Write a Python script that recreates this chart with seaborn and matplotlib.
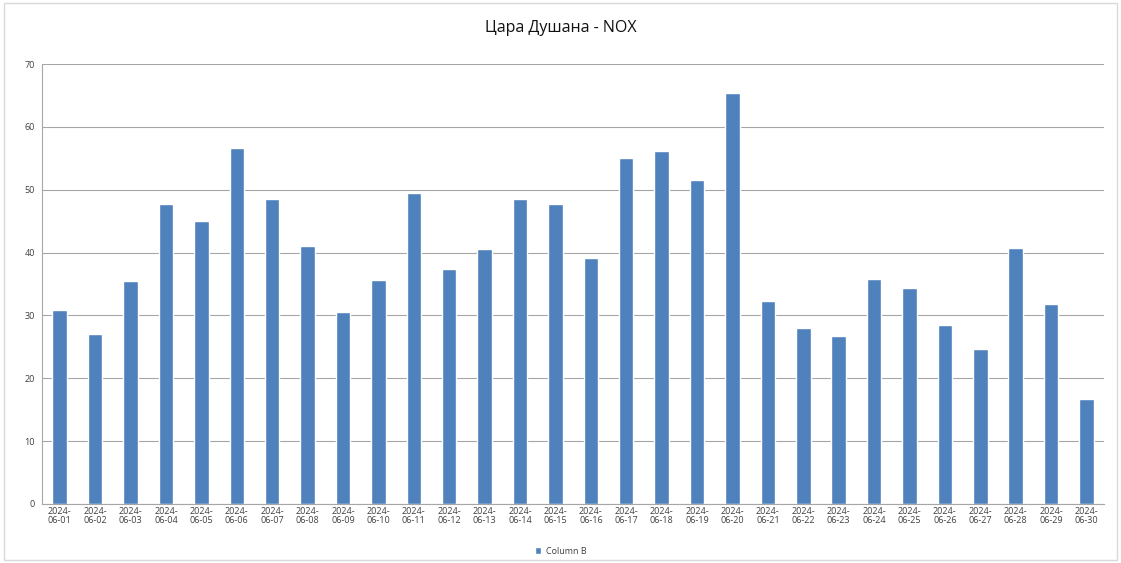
import matplotlib
matplotlib.use("Agg")
import matplotlib.pyplot as plt
from matplotlib.patches import Rectangle
import pandas as pd
import seaborn as sns

# ─── Data ─────────────────────────────────────────────────────────────────────
dates = [f"2024-06-{d:02d}" for d in range(1, 31)]
nox = [30.8, 27.0, 35.4, 47.7, 45.1, 56.6, 48.6, 41.1, 30.6, 35.6,
       49.5, 37.4, 40.5, 48.5, 47.8, 39.2, 55.0, 56.2, 51.5, 65.4,
       32.3, 28.0, 26.8, 35.8, 34.4, 28.5, 24.6, 40.7, 31.8, 16.7]
tick_labels = [d.replace("2024-", "2024-\n") for d in dates]
y_ticks = [0, 10, 20, 30, 40, 50, 60, 70]

BAR = "#4F81BD"
GRID = "#a6a6a6"
TEXT = "#404040"

sns.set_style("white")
plt.rcParams["font.family"] = ["Open Sans", "DejaVu Sans"]

df = pd.DataFrame({"Date": dates, "NOX": nox})

fig = plt.figure(figsize=(11.21, 5.63), dpi=100)
fig.patch.set_facecolor("white")
ax = fig.add_axes([0.0375, 0.1048, 0.9475, 0.7815])

sns.barplot(data=df, x="Date", y="NOX", color=BAR, width=0.41,
            saturation=1, label="Column B", ax=ax)
if ax.get_legend() is not None:
    ax.get_legend().remove()

ax.set_ylim(0, 70)
ax.set_yticks(y_ticks)
ax.set_xlim(-0.5, len(dates) - 0.5)
ax.set_xticks(range(len(dates)))
ax.set_xticklabels(tick_labels, fontsize=6.5, color=TEXT, linespacing=1.0)
ax.tick_params(axis="y", labelsize=6.5, colors=TEXT, length=3, width=0.8,
               color=GRID, pad=2)
ax.tick_params(axis="x", length=0, pad=2)
ax.set_xlabel("")
ax.set_ylabel("")

ax.yaxis.grid(True, color=GRID, linewidth=0.8)
ax.set_axisbelow(True)
for side in ["top", "right"]:
    ax.spines[side].set_visible(False)
for side in ["left", "bottom"]:
    ax.spines[side].set_color(GRID)
    ax.spines[side].set_linewidth(0.8)

fig.suptitle("Цара Душана - NOX", y=0.965, fontsize=11.5, color="#111111")

handles, labels = ax.get_legend_handles_labels()
fig.legend(handles, labels, loc="center", bbox_to_anchor=(0.5, 0.021),
           fontsize=6.5, frameon=False, handlelength=0.7, handleheight=0.9,
           handletextpad=0.5, labelcolor=TEXT)

# light chart frame
fig.patches.append(Rectangle((0.004, 0.005), 0.992, 0.99,
                             transform=fig.transFigure, fill=False,
                             edgecolor="#d9d9d9", linewidth=1.0))

fig.savefig("out.png", dpi=100, facecolor="white")
plt.close(fig)
